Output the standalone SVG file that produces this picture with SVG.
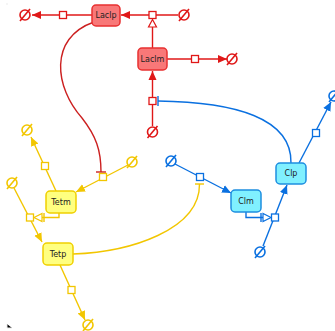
<svg xmlns="http://www.w3.org/2000/svg" width="335" height="331" viewBox="0 0 335 331">
<style>
.box text{font-family:"DejaVu Sans","Liberation Sans",sans-serif;font-size:8px;fill:#222;text-anchor:middle;dominant-baseline:central}
.r rect{fill:#f87878;stroke:#e83030;stroke-width:1.5}
.y rect{fill:#ffff80;stroke:#f0d000;stroke-width:1.5}
.b rect{fill:#80f0ff;stroke:#1e8ee0;stroke-width:1.5}
.sq{fill:#fff;stroke-width:1.3}
.es{fill:none;stroke-width:1.6}
.lr{stroke:#e01818;fill:none;stroke-width:1.4}
.ly{stroke:#f2c600;fill:none;stroke-width:1.4}
.lb{stroke:#0a70e0;fill:none;stroke-width:1.4}
.cr{stroke:#cc2020;fill:none;stroke-width:1.4}
</style>
<defs>
<marker id="ar" markerUnits="userSpaceOnUse" markerWidth="10" markerHeight="10" viewBox="0 0 10 10" refX="9" refY="5" orient="auto"><path d="M0,1 L9,5 L0,9 Z" fill="#e01818"/></marker>
<marker id="ay" markerUnits="userSpaceOnUse" markerWidth="10" markerHeight="10" viewBox="0 0 10 10" refX="9" refY="5" orient="auto"><path d="M0,1 L9,5 L0,9 Z" fill="#f2c600"/></marker>
<marker id="ab" markerUnits="userSpaceOnUse" markerWidth="10" markerHeight="10" viewBox="0 0 10 10" refX="9" refY="5" orient="auto"><path d="M0,1 L9,5 L0,9 Z" fill="#0a70e0"/></marker>
</defs>
<g id="corner-marks" stroke="#ebebeb" stroke-width="1"><path d="M7,3 V5 M7,324 V328 H12"/></g>
<g id="connectors">
<line class="lr" x1="92" y1="15" x2="32" y2="15" marker-end="url(#ar)"/>
<line class="lr" x1="178" y1="15" x2="121" y2="15" marker-end="url(#ar)"/>
<line class="lr" x1="152.5" y1="48" x2="152.5" y2="27"/>
<path d="M152.5,19.5 L156.5,27 L148.5,27 Z" fill="#fff" stroke="#e01818" stroke-width="1.2"/>
<line class="lr" x1="167" y1="59" x2="227" y2="59" marker-end="url(#ar)"/>
<line class="lr" x1="152.5" y1="126" x2="152.5" y2="71" marker-end="url(#ar)"/>
<path class="cr" d="M94,22 C48,38 55,88 82,118 C96,136 101,150 101,172"/>
<line class="cr" x1="96" y1="172" x2="106" y2="172"/>
<line class="ly" x1="56" y1="191" x2="31" y2="137" marker-end="url(#ay)"/>
<line class="ly" x1="128" y1="165" x2="76" y2="192" marker-end="url(#ay)"/>
<line class="ly" x1="14" y1="188" x2="42" y2="242" marker-end="url(#ay)"/>
<line class="ly" x1="60" y1="265" x2="85" y2="320" marker-end="url(#ay)"/>
<path class="ly" d="M59,213 V217.5 H42"/>
<path d="M34,217.5 L42,213.5 L42,221.5 Z" fill="#fff" stroke="#f2c600" stroke-width="1.2"/>
<line class="ly" x1="44" y1="213" x2="44" y2="222"/>
<path class="ly" d="M73,254 C130,252 200,230 199.5,184"/>
<line class="ly" x1="195" y1="184" x2="204" y2="184"/>
<line class="lb" x1="175" y1="164" x2="231" y2="193" marker-end="url(#ab)"/>
<line class="lb" x1="263" y1="246" x2="287" y2="185" marker-end="url(#ab)"/>
<line class="lb" x1="299" y1="163" x2="331" y2="102" marker-end="url(#ab)"/>
<path class="lb" d="M246,212 V217.5 H263"/>
<path d="M271,217.5 L263,213.5 L263,221.5 Z" fill="#fff" stroke="#0a70e0" stroke-width="1.2"/>
<line class="lb" x1="261" y1="213" x2="261" y2="222"/>
<path class="lb" d="M291,163 C292,118 235,102 158,101"/>
<line class="lb" x1="158" y1="96" x2="158" y2="106"/>
</g>
<g id="processes">
<rect class="sq" stroke="#e01818" x="59.5" y="11.5" width="7" height="7"/>
<rect class="sq" stroke="#e01818" x="149" y="11.5" width="7" height="7"/>
<rect class="sq" stroke="#e01818" x="191.5" y="55.5" width="7" height="7"/>
<rect class="sq" stroke="#e01818" x="149" y="97.5" width="7" height="7"/>
<rect class="sq" stroke="#f2c600" x="41.5" y="162.5" width="7" height="7"/>
<rect class="sq" stroke="#f2c600" x="99.5" y="173.5" width="7" height="7"/>
<rect class="sq" stroke="#f2c600" x="26.5" y="214" width="7" height="7"/>
<rect class="sq" stroke="#f2c600" x="68" y="286.5" width="7" height="7"/>
<rect class="sq" stroke="#0a70e0" x="196.5" y="173.5" width="7" height="7"/>
<rect class="sq" stroke="#0a70e0" x="271.5" y="214" width="7" height="7"/>
<rect class="sq" stroke="#0a70e0" x="312.5" y="129.5" width="7" height="7"/>
</g>
<g id="sinks">
<g class="es" stroke="#e01818"><circle cx="25" cy="15" r="5"/><line x1="20" y1="21" x2="30" y2="9"/></g>
<g class="es" stroke="#e01818"><circle cx="184" cy="15" r="5"/><line x1="179" y1="21" x2="189" y2="9"/></g>
<g class="es" stroke="#e01818"><circle cx="232" cy="59" r="5"/><line x1="227" y1="65" x2="237" y2="53"/></g>
<g class="es" stroke="#e01818"><circle cx="152.5" cy="132" r="5"/><line x1="147.5" y1="138" x2="157.5" y2="126"/></g>
<g class="es" stroke="#f2c600"><circle cx="27" cy="130" r="5"/><line x1="22" y1="136" x2="32" y2="124"/></g>
<g class="es" stroke="#f2c600"><circle cx="132" cy="162" r="5"/><line x1="127" y1="168" x2="137" y2="156"/></g>
<g class="es" stroke="#f2c600"><circle cx="12" cy="183" r="5"/><line x1="7" y1="189" x2="17" y2="177"/></g>
<g class="es" stroke="#f2c600"><circle cx="88" cy="325" r="5"/><line x1="83" y1="331" x2="93" y2="319"/></g>
<g class="es" stroke="#0a70e0"><circle cx="171" cy="161" r="5"/><line x1="166" y1="167" x2="176" y2="155"/></g>
<g class="es" stroke="#0a70e0"><circle cx="260" cy="252" r="5"/><line x1="255" y1="258" x2="265" y2="246"/></g>
<g class="es" stroke="#0a70e0"><circle cx="334" cy="96" r="5"/><line x1="329" y1="102" x2="339" y2="90"/></g>
</g>
<g id="Laclp" class="box r"><rect x="92" y="5" width="28" height="21" rx="4"/><text x="106" y="15.5">Laclp</text></g>
<g id="Laclm" class="box r"><rect x="138" y="48" width="29" height="22" rx="4"/><text x="152.5" y="59">Laclm</text></g>
<g id="Tetm" class="box y"><rect x="46" y="191" width="30" height="22" rx="4"/><text x="61" y="202">Tetm</text></g>
<g id="Tetp" class="box y"><rect x="43" y="243" width="30" height="22" rx="4"/><text x="58" y="254">Tetp</text></g>
<g id="Clm" class="box b"><rect x="231" y="190" width="30" height="22" rx="4"/><text x="246" y="201">Clm</text></g>
<g id="Clp" class="box b"><rect x="276" y="163" width="30" height="21" rx="4"/><text x="291" y="173.5">Clp</text></g>
</svg>
